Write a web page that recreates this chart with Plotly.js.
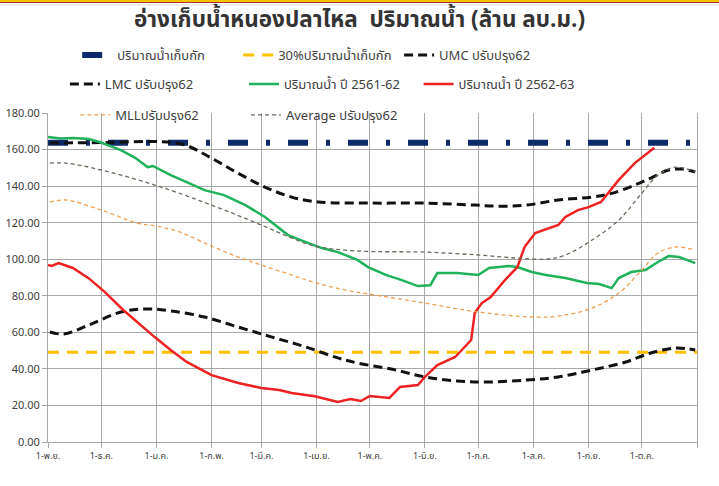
<!DOCTYPE html>
<html>
<head>
<meta charset="utf-8">
<script src="https://cdn.plot.ly/plotly-3.0.1.min.js"></script>
<style>
html,body{margin:0;padding:0;background:#fff;}
#chart{width:719px;height:486px;}
</style>
</head>
<body>
<div id="chart"></div>
<script>
// ---- tick labels ----
const tickDates = ["2018-11-01","2018-12-01","2019-01-01","2019-02-01","2019-03-01","2019-04-01","2019-05-01","2019-06-01","2019-07-01","2019-08-01","2019-09-01","2019-10-01","2019-11-01"];
const tickLabels = ["1-พ.ย.","1-ธ.ค.","1-ม.ค.","1-ก.พ.","1-มี.ค.","1-เม.ย.","1-พ.ค.","1-มิ.ย.","1-ก.ค.","1-ส.ค.","1-ก.ย.","1-ต.ค.",""];

// ---- series names ----
const names = ["ปริมาณน้ำเก็บกัก","30%ปริมาณน้ำเก็บกัก","UMC ปรับปรุง62","LMC ปรับปรุง62","ปริมาณน้ำ ปี 2561-62","ปริมาณน้ำ ปี 2562-63","MLLปรับปรุง62","Average ปรับปรุง62"];

// ---- capacity & 30% ----
const capDates = ["2018-11-01","2019-11-01"];
const capValues = [163.75, 163.75];
const pct30Values = [49.1, 49.1];

// ---- UMC ----
const umcDates = ["2018-11-02","2018-12-01","2019-01-03","2019-01-17","2019-02-01","2019-02-16","2019-03-03","2019-03-18","2019-04-02","2019-05-02","2019-06-01","2019-06-29","2019-07-13","2019-07-28","2019-08-15","2019-09-03","2019-09-14","2019-09-27","2019-10-06","2019-10-16","2019-10-24","2019-10-31"];
const umcValues = [163.6,163.8,164.3,162.5,155.3,147.0,139.5,134.0,131.3,130.7,130.7,129.6,129.0,129.6,132.4,134.0,136.0,140.6,144.4,148.8,149.3,147.7];

// ---- LMC ----
const lmcDates = ["2018-11-02","2018-11-10","2018-11-24","2018-12-12","2018-12-26","2019-01-09","2019-01-28","2019-02-16","2019-03-07","2019-03-26","2019-04-13","2019-04-24","2019-05-13","2019-06-01","2019-06-19","2019-07-05","2019-07-28","2019-08-15","2019-09-03","2019-09-22","2019-10-06","2019-10-20","2019-10-31"];
const lmcValues = [60.2,59.1,64.0,71.1,72.8,71.7,68.4,62.9,57.4,52.0,46.0,43.2,39.9,35.6,33.4,32.8,33.9,35.6,39.4,43.8,48.7,51.4,50.3];

// ---- Average ----
const avgDates = ["2018-11-02","2018-11-11","2018-12-01","2018-12-31","2019-02-01","2019-03-01","2019-03-18","2019-03-31","2019-04-24","2019-06-01","2019-07-01","2019-07-23","2019-08-09","2019-08-19","2019-09-03","2019-09-18","2019-10-01","2019-10-10","2019-10-20","2019-10-31"];
const avgValues = [152.6,152.6,148.8,140.6,129.6,118.7,111.6,107.2,104.5,103.9,102.3,100.6,100.1,102.3,110.5,121.4,136.2,146.0,150.4,147.7];

// ---- MLL ----
const mllDates = ["2018-11-02","2018-11-11","2018-12-01","2018-12-21","2019-01-01","2019-01-14","2019-02-01","2019-02-16","2019-03-01","2019-03-18","2019-04-01","2019-04-17","2019-05-04","2019-06-01","2019-07-01","2019-07-31","2019-08-15","2019-09-03","2019-09-18","2019-10-01","2019-10-10","2019-10-20","2019-10-31"];
const mllValues = [131.3,132.4,126.9,119.8,118.1,114.9,107.2,101.2,96.8,91.4,87.0,83.2,80.4,76.0,71.1,68.4,68.9,73.3,81.5,94.1,103.4,106.7,105.0];

// ---- ปริมาณน้ำ ปี 2561-62 (green) ----
const y2561Dates = ["2018-11-01","2018-11-08","2018-11-15","2018-11-24","2018-11-30","2018-12-06","2018-12-12","2018-12-20","2018-12-27","2018-12-30","2019-01-09","2019-01-18","2019-01-28","2019-02-08","2019-02-20","2019-03-03","2019-03-16","2019-03-26","2019-04-04","2019-04-13","2019-04-24","2019-04-30","2019-05-10","2019-05-19","2019-05-28","2019-06-04","2019-06-08","2019-06-19","2019-07-01","2019-07-07","2019-07-18","2019-07-23","2019-07-31","2019-08-08","2019-08-19","2019-08-31","2019-09-07","2019-09-14","2019-09-18","2019-09-25","2019-10-03","2019-10-10","2019-10-16","2019-10-22","2019-10-31"];
const y2561Values = [166.9,166.0,166.3,165.8,164.1,162.0,159.7,155.5,150.4,151.0,146.0,142.2,137.8,135.1,129.6,123.1,113.2,109.4,106.1,103.9,99.6,95.7,91.4,88.6,85.3,85.8,92.4,92.4,91.4,95.2,96.3,95.7,93.0,91.4,89.7,87.0,86.4,84.2,89.7,93.0,94.1,98.5,101.7,101.2,97.9];

// ---- ปริมาณน้ำ ปี 2562-63 (red) ----
const y2562Dates = ["2018-11-01","2018-11-03","2018-11-07","2018-11-15","2018-11-24","2018-12-03","2018-12-13","2018-12-21","2018-12-31","2019-01-09","2019-01-18","2019-02-01","2019-02-16","2019-03-01","2019-03-11","2019-03-18","2019-03-31","2019-04-13","2019-04-20","2019-04-26","2019-05-01","2019-05-12","2019-05-18","2019-05-28","2019-06-01","2019-06-08","2019-06-18","2019-06-27","2019-06-29","2019-07-03","2019-07-08","2019-07-16","2019-07-23","2019-07-27","2019-08-02","2019-08-15","2019-08-19","2019-08-26","2019-09-01","2019-09-08","2019-09-18","2019-09-27","2019-10-06","2019-10-08"];
const y2562Values = [96.8,96.3,97.9,95.2,89.5,82.0,72.5,65.6,57.4,50.3,43.8,36.6,32.3,29.5,28.4,26.8,25.0,21.9,23.5,22.4,25.2,24.1,30.1,31.2,35.6,42.1,46.5,55.8,70.6,76.0,79.3,88.6,95.7,106.7,114.3,118.7,123.1,126.9,128.5,131.3,143.4,152.6,159.7,161.0];

const FONT = "Noto Sans Thai, Tahoma, Leelawadee, DejaVu Sans, sans-serif";

function tr(x, y, name, legend, line, shape) {
  return {x: x, y: y, name: name, legend: legend, type: "scatter", mode: "lines",
          line: Object.assign({shape: shape || "linear"}, line), hoverinfo: "skip"};
}

const traces = [
  tr(capDates, capValues, names[0], "legend", {color: "#0f2a6b", width: 6, dash: "20px,18px,4px,18px"}),
  tr(capDates, pct30Values, names[1], "legend2", {color: "#ffc000", width: 3, dash: "11px,8px"}),
  tr(umcDates, umcValues, names[2], "legend3", {color: "#111111", width: 3, dash: "9px,5px"}, "spline"),
  tr(lmcDates, lmcValues, names[3], "legend4", {color: "#111111", width: 3, dash: "9px,5px"}, "spline"),
  tr(y2561Dates, y2561Values, names[4], "legend5", {color: "#1fb25a", width: 2.5}),
  tr(y2562Dates, y2562Values, names[5], "legend6", {color: "#ee2222", width: 2.5}),
  tr(mllDates, mllValues, names[6], "legend7", {color: "#f0a050", width: 1.3, dash: "4px,3px"}, "spline"),
  tr(avgDates, avgValues, names[7], "legend8", {color: "#6b6b5b", width: 1.3, dash: "4px,3px"}, "spline")
];

function leg(x, y) {
  return {x: x, y: y, xanchor: "left", yanchor: "middle", bgcolor: "rgba(0,0,0,0)",
          font: {family: FONT, size: 13, color: "#404040"}, orientation: "h"};
}

const layout = {
  width: 719, height: 486,
  margin: {l: 48, r: 22, t: 113, b: 44, pad: 0},
  paper_bgcolor: "#ffffff", plot_bgcolor: "#ffffff",
  font: {family: FONT, color: "#404040"},
  title: {text: "<b>อ่างเก็บน้ำหนองปลาไหล  ปริมาณน้ำ (ล้าน ลบ.ม.)</b>", x: 0.5, xref: "container", y: 1 - 19/486, yref: "container", yanchor: "middle",
          font: {family: FONT, size: 22.5, color: "#333333"}},
  xaxis: {type: "date", range: ["2018-11-01", "2019-11-01"], tickmode: "array", tickvals: tickDates, ticktext: tickLabels,
          showgrid: true, gridcolor: "#a8a8a8", gridwidth: 1, showline: true, linecolor: "#a8a8a8", linewidth: 1,
          ticks: "outside", ticklen: 5, tickcolor: "#a8a8a8", tickfont: {family: FONT, size: 9, color: "#404040"}, zeroline: false, fixedrange: true},
  yaxis: {range: [0, 180], dtick: 20, tick0: 0, tickformat: ".2f", showgrid: true, gridcolor: "#a8a8a8", gridwidth: 1,
          showline: true, linecolor: "#a8a8a8", linewidth: 1, mirror: true, ticks: "outside", ticklen: 5, tickcolor: "#a8a8a8",
          tickfont: {family: FONT, size: 11, color: "#404040"}, zeroline: false, fixedrange: true},
  showlegend: true,
  legend: leg(0.045, 1.176),
  legend2: leg(0.293, 1.176),
  legend3: leg(0.541, 1.176),
  legend4: leg(0.026, 1.088),
  legend5: leg(0.302, 1.088),
  legend6: leg(0.571, 1.088),
  legend7: leg(0.042, 0.994),
  legend8: leg(0.305, 0.994),
  shapes: [
    {type: "line", xref: "paper", yref: "paper", x0: -0.08, x1: 1.04, y0: 441/329, y1: 441/329, line: {color: "#f5c400", width: 2}},
    {type: "line", xref: "paper", yref: "paper", x0: -0.08, x1: 1.04, y0: 439.5/329, y1: 439.5/329, line: {color: "#b0302a", width: 1}},
    {type: "line", xref: "paper", yref: "paper", x0: -0.08, x1: 1.04, y0: 437/329, y1: 437/329, line: {color: "#dcdcdc", width: 1}}
  ]
};

Plotly.newPlot("chart", traces, layout, {displayModeBar: false, staticPlot: true});
</script>
</body>
</html>
